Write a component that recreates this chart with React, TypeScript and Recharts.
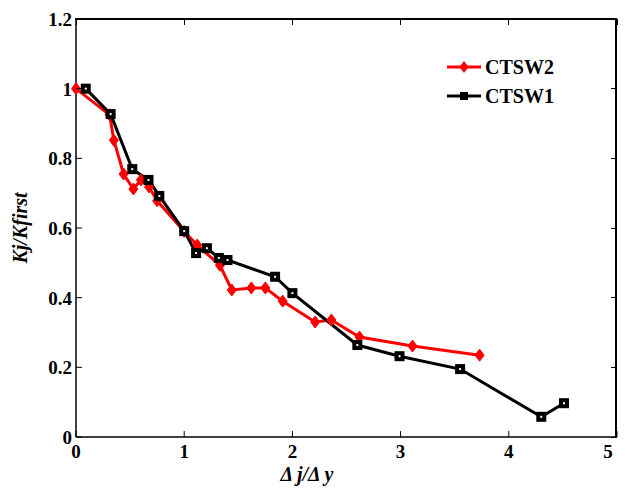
import React from 'react';
import { LineChart, Line, XAxis, YAxis } from 'recharts';

const ctsw2X = [0, 0.31, 0.35, 0.44, 0.53, 0.6, 0.675, 0.75, 1.0, 1.12, 1.33, 1.44, 1.62, 1.75, 1.91, 2.21, 2.36, 2.62, 3.11, 3.73];
const ctsw2Y = [1.0, 0.925, 0.852, 0.755, 0.712, 0.738, 0.718, 0.678, 0.59, 0.551, 0.493, 0.422, 0.428, 0.428, 0.39, 0.33, 0.336, 0.287, 0.261, 0.235];
const ctsw1X = [0.09, 0.32, 0.52, 0.67, 0.77, 1.0, 1.11, 1.21, 1.32, 1.4, 1.84, 2.0, 2.6, 2.99, 3.55, 4.3, 4.51];
const ctsw1Y = [1.0, 0.927, 0.769, 0.738, 0.692, 0.591, 0.528, 0.542, 0.514, 0.508, 0.46, 0.413, 0.264, 0.232, 0.195, 0.058, 0.097];
const xTicks = [0, 1, 2, 3, 4, 5];
const yTicks = [0, 0.2, 0.4, 0.6, 0.8, 1, 1.2];
const X_MAX = 5;
const Y_MAX = 1.2;

const ctsw2 = ctsw2X.map((x, i) => ({ x, y: ctsw2Y[i] }));
const ctsw1 = ctsw1X.map((x, i) => ({ x, y: ctsw1Y[i] }));

const CHART_W = 620;
const CHART_H = 482;
const MARGIN = { top: 11, right: 11, left: 0, bottom: 0 };
const YAXIS_W = 68;
const XAXIS_H = 53;
const FONT = '"Liberation Serif", "Times New Roman", serif';
const TICK = 6;

const PLOT_LEFT = MARGIN.left + YAXIS_W;
const PLOT_TOP = MARGIN.top;
const PLOT_RIGHT = CHART_W - MARGIN.right;
const PLOT_BOTTOM = CHART_H - MARGIN.bottom - XAXIS_H;

const BottomTick = (p: any) => {
  const v = p.payload.value;
  const dx = v === 5 ? -9 : 0;
  return (
    <g>
      <line x1={p.x} y1={p.y} x2={p.x} y2={p.y - TICK} stroke="#000" strokeWidth={1} />
      <text x={p.x + dx} y={p.y + 21} textAnchor="middle" fontFamily={FONT} fontWeight="bold" fontSize={19} fill="#000">{v}</text>
    </g>
  );
};
const LeftTick = (p: any) => {
  const v = p.payload.value;
  return (
    <g>
      <line x1={p.x} y1={p.y} x2={p.x + TICK} y2={p.y} stroke="#000" strokeWidth={1} />
      <text x={p.x - 4} y={p.y + 7} textAnchor="end" fontFamily={FONT} fontWeight="bold" fontSize={19} fill="#000">{String(v)}</text>
    </g>
  );
};

// Box frame: CSS-bordered box over the plot area plus inward tick marks on top/right.
const Frame = () => {
  const w = PLOT_RIGHT - PLOT_LEFT;
  const h = PLOT_BOTTOM - PLOT_TOP;
  return (
    <>
      <div
        style={{
          position: 'absolute',
          left: PLOT_LEFT - 1,
          top: PLOT_TOP - 1,
          width: w + 1,
          height: h + 1,
          borderTop: '2px solid #000',
          borderRight: '2px solid #000',
          boxSizing: 'border-box',
          pointerEvents: 'none',
        }}
      />
      {xTicks.map((t) => (
        <div
          key={`tx${t}`}
          style={{
            position: 'absolute',
            left: PLOT_LEFT + (w * t) / X_MAX - 0.5,
            top: PLOT_TOP,
            width: 1,
            height: TICK,
            background: '#000',
            pointerEvents: 'none',
          }}
        />
      ))}
      {yTicks.map((t) => (
        <div
          key={`ty${t}`}
          style={{
            position: 'absolute',
            left: PLOT_RIGHT - TICK,
            top: PLOT_BOTTOM - (h * t) / Y_MAX - 0.5,
            width: TICK,
            height: 1,
            background: '#000',
            pointerEvents: 'none',
          }}
        />
      ))}
    </>
  );
};

const Diamond = (p: any) => {
  const { cx, cy } = p;
  if (cx == null || cy == null) return null;
  return <path key={`d${p.index}`} d={`M${cx},${cy - 6} L${cx + 4.5},${cy} L${cx},${cy + 6} L${cx - 4.5},${cy} Z`} fill="#ff0000" stroke="#ff0000" strokeWidth={1} />;
};
const Square = (p: any) => {
  const { cx, cy } = p;
  if (cx == null || cy == null) return null;
  return (
    <g key={`s${p.index}`}>
      <rect x={cx - 5} y={cy - 5} width={10} height={10} fill="#000" />
      <rect x={cx - 1} y={cy - 1} width={2} height={2} fill="#fff" />
    </g>
  );
};

const LegendBox = () => (
  <svg width={150} height={60} style={{ display: 'block' }}>
    <line x1={2} y1={13} x2={36} y2={13} stroke="#ff0000" strokeWidth={3} />
    <path d="M19,7 L23.5,13 L19,19 L14.5,13 Z" fill="#ff0000" />
    <text x={40} y={20} fontFamily={FONT} fontWeight="bold" fontSize={20} fill="#000">CTSW2</text>
    <line x1={2} y1={42} x2={36} y2={42} stroke="#000" strokeWidth={3} />
    <rect x={15} y={38} width={8} height={8} fill="#000" />
    <text x={40} y={49} fontFamily={FONT} fontWeight="bold" fontSize={20} fill="#000">CTSW1</text>
  </svg>
);

export default function App() {
  return (
    <div style={{ position: 'relative', width: CHART_W, height: CHART_H }}>
      <LineChart width={CHART_W} height={CHART_H} margin={MARGIN}>
        <XAxis
          dataKey="x"
          type="number"
          domain={[0, X_MAX]}
          ticks={xTicks}
          tickSize={0}
          tickMargin={0}
          height={XAXIS_H}
          stroke="#000"
          strokeWidth={1.5}
          tick={BottomTick}
          allowDuplicatedCategory={false}
          label={(props: any) => {
            const vb = props.viewBox;
            return (
              <text x={vb.x + 231} y={vb.y + 44} textAnchor="middle" fontFamily={FONT} fontStyle="italic" fontWeight="bold" fontSize={20} fill="#000">Δ j/Δ y</text>
            );
          }}
        />
        <YAxis
          dataKey="y"
          type="number"
          domain={[0, Y_MAX]}
          ticks={yTicks}
          tickSize={0}
          tickMargin={0}
          width={YAXIS_W}
          stroke="#000"
          strokeWidth={1.5}
          tick={LeftTick}
          label={(props: any) => {
            const vb = props.viewBox;
            const cx = 12;
            const cy = vb.y + 209;
            return (
              <text x={cx} y={cy} transform={`rotate(-90 ${cx} ${cy})`} textAnchor="middle" dominantBaseline="central" fontFamily={FONT} fontStyle="italic" fontWeight="bold" fontSize={20} fill="#000">Kj/Kfirst</text>
            );
          }}
        />
        <Line
          data={ctsw2}
          dataKey="y"
          name="CTSW2"
          type="linear"
          stroke="#ff0000"
          strokeWidth={3}
          dot={Diamond}
          activeDot={false}
          isAnimationActive={false}
        />
        <Line
          data={ctsw1}
          dataKey="y"
          name="CTSW1"
          type="linear"
          stroke="#000"
          strokeWidth={3}
          dot={Square}
          activeDot={false}
          isAnimationActive={false}
        />
      </LineChart>
      <Frame />
      <div style={{ position: 'absolute', left: 437, top: 46 }}>
        <LegendBox />
      </div>
    </div>
  );
}
